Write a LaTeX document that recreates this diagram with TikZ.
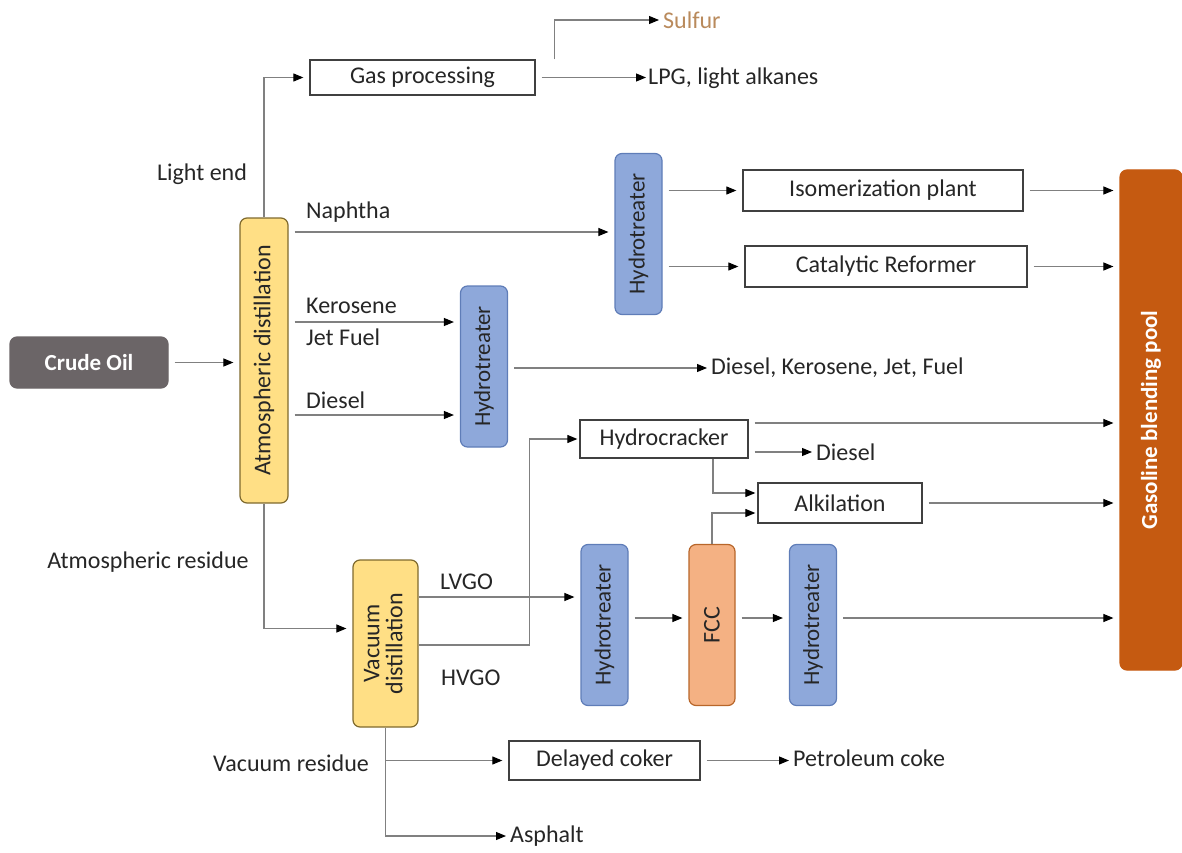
\documentclass[tikz,border=0pt]{standalone}
\usepackage{fontspec}
\setmainfont{Carlito}
\usepackage{graphicx}
\usetikzlibrary{arrows.meta}
\definecolor{crudegray}{HTML}{6B6567}
\definecolor{atmyellow}{HTML}{FFDF85}
\definecolor{atmedge}{HTML}{7F6A2E}
\definecolor{htblue}{HTML}{8EA8DA}
\definecolor{htedge}{HTML}{5F7DB8}
\definecolor{fccsalmon}{HTML}{F4B183}
\definecolor{fccedge}{HTML}{B8662A}
\definecolor{poolorange}{HTML}{C55A11}
\definecolor{sulfurcol}{HTML}{B98A5C}
\definecolor{linegray}{HTML}{808080}
\begin{document}
\begin{tikzpicture}[x=1pt,y=-1pt,
  every node/.style={font=\fontsize{24}{27}\selectfont, text=black!85},
  flow/.style={draw=linegray, line width=1.1pt, shorten <=6pt, shorten >=6pt,
    -{Triangle[length=10pt,width=8pt,color=black,fill=black]}},
  boxnode/.style={draw=black!75, line width=1.3pt, fill=white, inner sep=0pt},
  colnode/.style={rounded corners=7pt, line width=1.2pt, inner sep=0pt},
  htnode/.style={colnode, draw=htedge, fill=htblue, minimum width=47pt, minimum height=161pt,
    font=\fontsize{23}{26}\selectfont},
  lbl/.style={inner sep=0pt}
]
\useasboundingbox (0,0) rectangle (1182,853);

% nodes
\node[colnode, draw=crudegray, fill=crudegray, minimum width=158pt, minimum height=51pt,
  text=white, font=\fontsize{23}{26}\selectfont\bfseries] (crude) at (89,362.5) {Crude Oil};
\node[colnode, draw=atmedge, fill=atmyellow, minimum width=48pt, minimum height=285pt] (atm) at (264,360.5)
  {\rotatebox{90}{Atmospheric distillation}};
\node[boxnode, minimum width=225pt, minimum height=35pt] (gas) at (422.5,77.5) {Gas processing};
\node[lbl, anchor=west, text=sulfurcol] (sulfur) at (663,20) {Sulfur};
\node[lbl, anchor=west] (lpg) at (648,78) {LPG, light alkanes};
\node[htnode] (ht1) at (638.5,234) {\rotatebox{90}{Hydrotreater}};
\node[boxnode, minimum width=280pt, minimum height=41pt] (iso) at (883,190.5) {Isomerization plant};
\node[boxnode, minimum width=282pt, minimum height=41pt] (cat) at (886,266.5) {Catalytic Reformer};
\node[colnode, draw=poolorange, fill=poolorange, minimum width=62pt, minimum height=500pt,
  text=white, font=\fontsize{23}{26}\selectfont\bfseries] (pool) at (1151,420) {\rotatebox{90}{Gasoline blending pool}};
\node[htnode] (ht2) at (484,366.5) {\rotatebox{90}{Hydrotreater}};
\node[lbl, anchor=west] (dko) at (711,368) {Diesel, Kerosene, Jet, Fuel};
\node[boxnode, minimum width=168pt, minimum height=38pt] (hc) at (664,439) {Hydrocracker};
\node[lbl, anchor=west] (d2) at (816,452) {Diesel};
\node[boxnode, minimum width=164pt, minimum height=40pt] (alk) at (840,503) {Alkilation};
\node[colnode, draw=atmedge, fill=atmyellow, minimum width=65pt, minimum height=167pt] (vac) at (385.5,643.5)
  {\rotatebox{90}{\begin{tabular}{@{}c@{}}Vacuum\\[-4pt] distillation\end{tabular}}};
\node[htnode] (ht3) at (604.5,625) {\rotatebox{90}{Hydrotreater}};
\node[colnode, draw=fccedge, fill=fccsalmon, minimum width=46pt, minimum height=161pt] (fcc) at (712,625) {\rotatebox{90}{FCC}};
\node[htnode] (ht4) at (813,625) {\rotatebox{90}{Hydrotreater}};
\node[boxnode, minimum width=191pt, minimum height=39pt] (coker) at (604.5,760.5) {Delayed coker};
\node[lbl, anchor=west] (pc) at (793,758) {Petroleum coke};
\node[lbl, anchor=west] (asph) at (510,836) {Asphalt};

% stream labels
\node[lbl] (llight) at (202,174) {Light end};
\node[lbl, anchor=west] (lnaph) at (306,212) {Naphtha};
\node[lbl, anchor=west] (lkero) at (306,306) {Kerosene};
\node[lbl, anchor=west] (ljet) at (306,337) {Jet Fuel};
\node[lbl, anchor=west] (ldies) at (306,400) {Diesel};
\node[lbl] (lares) at (148,562) {Atmospheric residue};
\node[lbl, anchor=west] (llvgo) at (440,582) {LVGO};
\node[lbl, anchor=west] (lhvgo) at (441,678) {HVGO};
\node[lbl] (lvres) at (291,763) {Vacuum residue};

% connectors
\draw[flow] (crude.east) -- (atm.west |- crude.east);
\draw[flow, shorten <=0pt] (atm.north) |- (gas.west);
\draw[flow, shorten <=0pt, shorten >=4pt] ([xshift=132pt]gas.north) |- (sulfur.west);
\draw[flow, shorten >=2pt] (gas.east) -- (gas.east -| lpg.west);
\draw[flow] (atm.east |- 0,232) -- (ht1.west |- 0,232);
\draw[flow] (ht1.east |- iso.west) -- (iso.west);
\draw[flow] (ht1.east |- cat.west) -- (cat.west);
\draw[flow] (iso.east) -- (pool.west |- iso.east);
\draw[flow] (cat.east) -- (pool.west |- cat.east);
\draw[flow] (atm.east |- 0,322) -- (ht2.west |- 0,322);
\draw[flow] (atm.east |- 0,415) -- (ht2.west |- 0,415);
\draw[flow, shorten >=4pt] (ht2.east |- dko.west) -- (dko.west);
\draw[flow] (hc.east |- 0,423) -- (pool.west |- 0,423);
\draw[flow, shorten >=4pt] (hc.east |- d2.west) -- (d2.west);
\draw[flow, shorten <=0pt, shorten >=2pt] ([xshift=49pt]hc.south) |- ([yshift=10pt]alk.west);
\draw[flow, shorten <=0pt, shorten >=2pt] (fcc.north) |- ([yshift=-10pt]alk.west);
\draw[flow] (alk.east) -- (pool.west |- alk.east);
\draw[flow, shorten <=0pt] (atm.south) |- ([yshift=15pt]vac.west);
\draw[flow, shorten <=0pt] (vac.east |- 0,597) -- (ht3.west |- 0,597);
\draw[flow, shorten <=0pt, shorten >=2pt] (vac.east |- 0,645) -| ([xshift=-50pt]hc.west) -- (hc.west);
\draw[flow] (ht3.east |- 0,618) -- (fcc.west |- 0,618);
\draw[flow] (fcc.east |- 0,618) -- (ht4.west |- 0,618);
\draw[flow] (ht4.east |- 0,618) -- (pool.west |- 0,618);
\draw[flow, shorten <=0pt, shorten >=4pt] (vac.south) |- (asph.west);
\draw[flow, shorten <=0pt] (vac.south |- coker.west) -- (coker.west);
\draw[flow, shorten >=4pt] (coker.east) -- (coker.east -| pc.west);
\end{tikzpicture}
\end{document}
